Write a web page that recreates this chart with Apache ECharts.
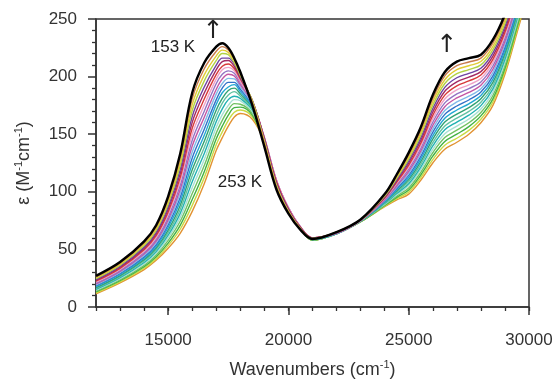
<!DOCTYPE html>
<html><head><meta charset="utf-8">
<script src="https://cdn.jsdelivr.net/npm/echarts@6/dist/echarts.min.js"></script>
<style>html,body{margin:0;padding:0;background:#fff}#c{width:557px;height:381px}</style>
</head><body><div id="c"></div>
<script>
// Wavenumber grid (cm^-1)
const wavenumbers = [12000,13000,14000,14500,15000,15500,16000,16500,17000,17250,17500,17750,18000,18500,19000,19500,20000,20500,21000,22000,23000,24000,24500,25000,25500,26000,26500,27000,27500,28000,28500,29000,29500,30000];

// Temperatures (K)
const temperatures = [153,158,163,168,173,178,183,188,193,198,203,208,213,218,223,228,233,238,243,248,253];

// Molar absorptivity (M^-1 cm^-1) per temperature
const t153 = [27,39,57,71,96,133,186,212,226,229,225,216,204,175,139,102,81,67,59,65,76,98,115,134,156,184,204,213,216,219,232,254,285,320];
const t158 = [26.2,38.1,55.8,69.5,93.8,129.6,180.9,206.8,222,226,223,215,203,177,142,104,82,67.5,59,65,76,97.5,113.9,132.2,153.7,181.1,200.7,209.5,212.7,216,229.2,251.4,282.7,317.8];
const t163 = [25.5,37.2,54.6,68,91.5,126.1,175.7,201.5,218,223,221,214,202,178,143,105,83,68,59,65,76,96.9,112.8,130.4,151.4,178.1,197.3,206,209.4,213.1,226.3,248.8,280.3,315.5];
const t168 = [24.7,36.3,53.3,66.4,89.3,122.7,170.6,196.3,214,220,219,212,201,179,144,106,83,68,59.5,65,75.5,96.4,111.7,128.6,149.1,175.2,194,202.5,206.1,210.2,223.5,246.2,278,313.3];
const t173 = [23.9,35.4,52.1,64.9,87,119.2,165.4,191,210,216,216,211,200,179,145,107,84,68.5,59.5,64.5,75.5,95.8,110.6,126.8,146.8,172.2,190.6,199,202.8,207.2,220.6,243.6,275.6,311];
const t178 = [23.1,34.5,50.9,63.4,84.8,115.8,160.3,185.8,206,213,214,209,199,179,146,108,85,69,60,64.5,75.5,95.3,109.5,125,144.5,169.3,187.3,195.5,199.5,204.3,217.8,241,273.3,308.8];
const t183 = [22.4,33.6,49.7,61.9,82.5,112.3,155.1,180.5,202,209,211,207,198,179,146,109,85,69,60,64.5,75.5,94.7,108.4,123.2,142.2,166.3,183.9,192,196.2,201.3,214.9,238.4,270.9,306.5];
const t188 = [21.6,32.7,48.4,60.3,80.3,108.9,150,175.3,198,206,208,205,196,178,147,110,86,69.5,60,64.5,75,94.2,107.3,121.4,139.9,163.4,180.6,188.5,192.9,198.4,212.1,235.8,268.6,304.3];
const t193 = [20.8,31.8,47.2,58.8,78,105.4,144.8,170,194,202,205,203,195,178,147,110,86,69.5,60,64.5,75,93.6,106.2,119.6,137.6,160.4,177.2,185,189.6,195.4,209.2,233.2,266.2,302];
const t198 = [20,30.9,46,57.3,75.8,102,139.7,164.8,189,198,202,200.5,193,177,147,110,86,69.5,60,64,75,93.1,105.1,117.8,135.3,157.5,173.9,181.5,186.3,192.5,206.4,230.6,263.9,299.8];
const t203 = [19.3,30,44.8,55.8,73.5,98.5,134.5,159.5,185,194,198.5,198,191,176,146,109,86,69,59.5,64,75,92.5,104,116,133,154.5,170.5,178,183,189.5,203.5,228,261.5,297.5];
const t208 = [18.5,29.1,43.5,54.2,71.3,95.1,129.4,154.3,180,190,195,195,189,175,146,109,85,69,59.5,64,75,92,102.9,114.2,130.7,151.6,167.2,174.5,179.7,186.6,200.7,225.4,259.2,295.3];
const t213 = [17.7,28.2,42.3,52.7,69,91.6,124.2,149,176,186,191,193,187,174,145,108,85,69,59,64,75,91.4,101.8,112.4,128.4,148.6,163.8,171,176.4,183.6,197.8,222.8,256.8,293];
const t218 = [16.9,27.3,41.1,51.2,66.8,88.2,119.1,143.8,171,181,188,190,185,173,145,108,85,68.5,59,64,74.5,90.9,100.7,110.6,126.1,145.7,160.5,167.5,173.1,180.7,195,220.2,254.5,290.8];
const t223 = [16.2,26.4,39.9,49.7,64.5,84.7,113.9,138.5,166,177,184,187,183,172,144,107,84,68.5,58.5,64,74.5,90.3,99.6,108.8,123.8,142.7,157.1,164,169.8,177.7,192.1,217.6,252.1,288.5];
const t228 = [15.4,25.5,38.6,48.1,62.3,81.3,108.8,133.3,161,172,180,183,181,171,144,107,84,68.5,58.5,63.5,74.5,89.8,98.5,107,121.5,139.8,153.8,160.5,166.5,174.8,189.3,215,249.8,286.3];
const t233 = [14.6,24.6,37.4,46.6,60,77.8,103.6,128,156,167,175,180,179,169.5,143,106,84,68,58.5,63.5,74.5,89.2,97.4,105.2,119.2,136.8,150.4,157,163.2,171.8,186.4,212.4,247.4,284];
const t238 = [13.8,23.7,36.2,45.1,57.8,74.4,98.5,122.8,151,162,171,176.5,176,168,143,106,84,68,58,63.5,74,88.7,96.3,103.4,116.9,133.9,147.1,153.5,159.9,168.9,183.6,209.8,245.1,281.8];
const t243 = [13.1,22.8,35,43.6,55.5,70.9,93.3,117.5,146,157,166.5,173,173.5,166.5,143,106,84,68,58,63.5,74,88.1,95.2,101.6,114.6,130.9,143.7,150,156.6,165.9,180.7,207.2,242.7,279.5];
const t248 = [12.3,21.9,33.7,42,53.3,67.5,88.2,112.3,141,152,162,169,171,165,143,106,83,68,58,63.5,74,87.6,94.1,99.8,112.3,128,140.4,146.5,153.3,163,177.9,204.6,240.4,277.3];
const t253 = [11.5,21,32.5,40.5,51,64,83,107,136,147,157,165,168,163,143,106,83,68,58,63.5,74,87,93,98,110,125,137,143,150,160,175,202,238,275];

// Axis ticks
const xMajorTicks = [15000,20000,25000,30000];
const yMajorTicks = [0,50,100,150,200,250];

// Annotations [wavenumber, epsilon, text]
const annotations = [
  [15200, 225.5, '153 K'],
  [16870, 239, '↑'],
  [17985, 108.5, '253 K'],
  [26590, 227, '↑']
];

const spectra = [t153,t158,t163,t168,t173,t178,t183,t188,t193,t198,t203,t208,t213,t218,t223,t228,t233,t238,t243,t248,t253];
const colors = ['#000000','#c87a4a','#e2cc34','#b2d244','#6e44a2','#a42a62','#d83a3a','#f0a2c8','#9474c4','#c456a4','#82bae8','#3272c8','#22a8d2','#32a272','#62c2a2','#22b2b2','#a8e0d2','#72c262','#44b244','#cada44','#e29232'];

const FONT = '"Liberation Sans", Arial, sans-serif';
const series = [];
for (let k = spectra.length - 1; k >= 0; k--) {
  const s = {
    type: 'line',
    name: temperatures[k] + ' K',
    data: wavenumbers.map((w, i) => [w, spectra[k][i]]),
    showSymbol: false,
    smooth: 0.35,
    lineStyle: { color: colors[k], width: k === 0 ? 2.4 : 1.4 },
    itemStyle: { color: colors[k] },
    z: k === 0 ? 5 : 2,
    silent: true
  };
  if (k === 0) {
    s.markPoint = {
      symbol: 'circle', symbolSize: 0, silent: true,
      data: annotations.map(a => ({
        coord: [a[0], a[1]], name: a[2],
        label: {
          show: true, position: 'inside', formatter: '{b}',
          color: '#222', fontFamily: a[2] === '↑' ? '"DejaVu Sans", sans-serif' : FONT,
          fontSize: a[2] === '↑' ? 25 : 17
        }
      }))
    };
  }
  series.push(s);
}

const chart = echarts.init(document.getElementById('c'), null, { renderer: 'canvas' });
chart.setOption({
  animation: false,
  backgroundColor: '#fff',
  grid: { left: 96, right: 28, top: 19, bottom: 74, outerBoundsMode: 'none', containLabel: false,
    show: true, borderColor: '#333', borderWidth: 1.5, backgroundColor: 'transparent' },
  xAxis: [{
    type: 'value', min: 12000, max: 30000, interval: 1000,
    axisLine: { show: true, onZero: false, lineStyle: { color: '#333', width: 1.5 } },
    axisTick: { show: true, length: 4, lineStyle: { color: '#333', width: 1.3 } },
    splitLine: { show: false },
    axisLabel: { margin: 25, color: '#333', fontSize: 17, fontFamily: FONT,
      formatter: v => (xMajorTicks.indexOf(v) >= 0 ? String(v) : '') },
    name: '{a|Wavenumbers (cm}{s|-1}{a|)}', nameLocation: 'middle', nameGap: 52,
    nameTextStyle: { rich: {
      a: { fontSize: 18, fontFamily: FONT, color: '#333', lineHeight: 22 },
      s: { fontSize: 11, fontFamily: FONT, color: '#333', lineHeight: 12, verticalAlign: 'top' }
    } }
  }, {
    type: 'value', min: 12000, max: 30000, interval: 1000, position: 'bottom',
    axisLine: { show: false },
    axisTick: { show: true, length: 8, customValues: xMajorTicks, lineStyle: { color: '#333', width: 1.5 } },
    axisLabel: { show: false }, splitLine: { show: false }
  }],
  yAxis: {
    type: 'value', min: 0, max: 250, interval: 50,
    axisLine: { show: true, onZero: false, lineStyle: { color: '#333', width: 1.5 } },
    axisTick: { show: true, length: 8, lineStyle: { color: '#333', width: 1.5 } },
    minorTick: { show: true, splitNumber: 5, length: 4, lineStyle: { color: '#333', width: 1.3 } },
    splitLine: { show: false },
    axisLabel: { margin: 19, color: '#333', fontSize: 17, fontFamily: FONT,
      formatter: v => (yMajorTicks.indexOf(v) >= 0 ? String(v) : '') },
    name: '{a|ε (M}{s|-1}{a|cm}{s|-1}{a|)}', nameLocation: 'middle', nameRotate: 90, nameGap: 61,
    nameTextStyle: { rich: {
      a: { fontSize: 18, fontFamily: FONT, color: '#333', lineHeight: 22 },
      s: { fontSize: 11, fontFamily: FONT, color: '#333', lineHeight: 12, verticalAlign: 'top' }
    } }
  },
  series: series
});
</script>
</body></html>
